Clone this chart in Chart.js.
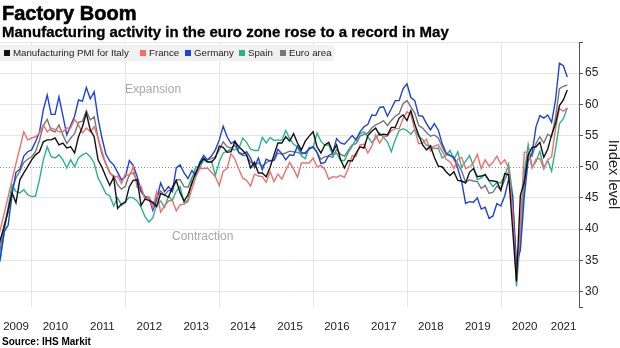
<!DOCTYPE html>
<html>
<head>
<meta charset="utf-8">
<script src="https://cdn.jsdelivr.net/npm/chart.js@4.4.1/dist/chart.umd.min.js"></script>
<style>
  html, body { margin: 0; padding: 0; background: #fff; }
  canvas { display: block; }
</style>
</head>
<body>
<canvas id="pmiChart" width="620" height="348"></canvas>
<script>
// months counted from Jan 2009 (= 0); series start in Mar 2009
const firstMonth = 2;
const yearLabels = ['2009', '2010', '2011', '2012', '2013', '2014', '2015', '2016', '2017', '2018', '2019', '2020', '2021'];
const yTicks = [30, 35, 40, 45, 50, 55, 60, 65];

const italy = [
  35.0, 38.3, 40.4, 43.1, 45.8, 44.2, 47.9, 49.0, 50.0, 51.1,
  51.9, 52.4, 54.0, 54.3, 54.3, 54.6, 53.5, 53.8, 53.0, 53.2, 52.2, 54.8,
  56.4, 58.6, 55.9, 54.8, 51.1, 49.9, 48.4, 47.0, 48.3, 43.3, 44.0, 44.3,
  46.8, 47.8, 47.9, 43.8, 44.8, 44.6, 44.3, 43.6, 45.7, 45.5, 45.1, 46.7,
  47.8, 45.8, 44.5, 45.5, 47.3, 49.1, 50.4, 51.3, 50.8, 50.7, 51.4, 53.3,
  53.1, 52.3, 52.4, 54.0, 53.2, 52.6, 51.9, 49.8, 50.7, 49.0, 49.0, 48.4,
  49.9, 51.9, 53.8, 53.8, 54.8, 54.1, 55.3, 53.8, 52.7, 54.1, 54.9, 55.6,
  53.2, 52.2, 53.5, 53.9, 52.4, 53.5, 51.2, 49.8, 51.0, 50.9, 52.2, 53.2,
  53.0, 55.0, 55.7, 56.2, 55.1, 55.2, 55.1, 56.3, 56.3, 57.8, 58.3, 57.4,
  59.0, 56.8, 55.1, 53.5, 52.7, 53.3, 51.5, 50.1, 50.0, 49.2, 48.6, 49.2,
  47.8, 47.7, 47.4, 49.1, 49.7, 48.4, 48.5, 48.7, 47.8, 47.7, 47.6, 46.2,
  48.9, 48.7, 40.3, 31.6, 45.4, 47.5, 51.9, 53.1, 53.2, 53.9, 51.5, 52.8,
  55.1, 56.9, 59.8, 60.7, 62.3
];
const france = [
  37.5, 39.9, 42.5, 45.2, 47.9, 50.5, 53.0, 55.6, 54.3, 54.6,
  54.8, 55.4, 56.7, 55.6, 56.2, 56.0, 55.6, 55.6, 56.2, 56.2, 57.6, 56.7,
  55.4, 56.2, 55.6, 56.4, 54.6, 52.5, 50.5, 49.1, 48.2, 48.5, 47.3, 48.9,
  48.5, 50.0, 46.7, 46.9, 44.7, 45.2, 43.4, 46.0, 42.7, 43.7, 44.5, 44.6,
  42.9, 43.9, 44.0, 44.4, 46.4, 48.4, 49.7, 49.7, 49.8, 49.1, 48.4, 47.0,
  49.3, 49.7, 52.1, 51.2, 49.6, 48.2, 47.8, 46.9, 48.8, 48.5, 48.4, 47.5,
  49.2, 47.6, 48.8, 48.0, 49.4, 50.7, 49.6, 48.3, 50.6, 50.6, 50.6, 51.4,
  50.0, 50.2, 49.6, 48.0, 48.4, 48.3, 48.6, 48.3, 49.7, 51.8, 51.7, 53.5,
  53.6, 52.2, 53.3, 55.1, 53.8, 54.8, 54.9, 55.8, 56.1, 56.1, 57.7, 58.8,
  58.4, 55.9, 53.7, 53.8, 54.4, 52.5, 53.3, 53.5, 52.5, 51.2, 50.8, 49.7,
  51.2, 51.5, 49.7, 50.0, 50.6, 52.0, 49.7, 51.1, 50.1, 50.7, 51.7, 50.4,
  51.1, 49.8, 43.2, 31.5, 40.6, 52.3, 52.4, 49.8, 51.2, 51.3, 49.6, 51.1,
  51.6, 56.1, 59.3, 58.9, 59.4
];
const germany = [
  32.4, 35.4, 39.6, 40.6, 45.5, 49.1, 49.6, 51.7, 52.4, 52.7,
  54.0, 55.5, 59.1, 61.5, 58.4, 58.4, 61.2, 58.2, 55.1, 56.6, 58.1, 60.7,
  60.5, 62.7, 60.9, 62.0, 57.7, 54.6, 52.0, 50.9, 50.3, 49.1, 47.9, 48.4,
  51.0, 50.2, 48.4, 46.2, 45.2, 45.0, 43.0, 44.7, 47.4, 46.0, 46.8, 46.0,
  49.8, 50.3, 49.0, 48.1, 49.4, 48.6, 50.7, 51.8, 51.1, 51.7, 52.7, 54.3,
  56.5, 54.8, 53.7, 54.1, 52.3, 52.0, 52.4, 51.4, 49.9, 51.4, 49.5, 51.2,
  50.9, 51.1, 52.8, 52.1, 51.1, 51.9, 51.8, 53.3, 52.3, 52.1, 52.9, 53.2,
  52.3, 50.5, 50.7, 51.8, 52.1, 54.5, 53.8, 53.6, 54.3, 55.0, 54.3, 55.6,
  56.4, 56.8, 58.3, 58.2, 59.5, 59.6, 58.1, 59.3, 60.6, 60.6, 62.5, 63.3,
  61.1, 60.6, 58.2, 58.1, 56.9, 55.9, 56.9, 55.9, 53.7, 52.2, 51.8, 51.5,
  49.7, 47.6, 44.1, 44.4, 44.3, 45.0, 43.2, 43.5, 41.7, 42.1, 44.1, 43.7,
  45.3, 48.0, 45.4, 34.5, 36.6, 45.2, 51.0, 52.2, 56.4, 58.2, 57.8, 58.3,
  57.1, 60.7, 66.6, 66.2, 64.4
];
const spain = [
  33.5, 35.1, 39.5, 43.5, 47.1, 46.0, 45.8, 46.3, 45.5, 45.2,
  45.3, 47.9, 51.1, 53.2, 51.6, 51.4, 51.9, 51.1, 49.8, 51.1, 50.0, 51.4,
  51.9, 52.2, 51.6, 50.6, 48.2, 47.0, 45.7, 45.3, 43.7, 45.0, 43.8, 44.4,
  45.1, 45.0, 44.5, 43.5, 42.0, 41.1, 41.8, 44.0, 44.5, 43.5, 45.3, 44.6,
  46.1, 46.8, 44.2, 44.7, 48.1, 50.0, 49.8, 51.1, 50.7, 50.9, 48.6, 50.8,
  52.2, 52.5, 52.8, 52.7, 52.9, 54.6, 53.9, 52.8, 52.6, 52.6, 54.7, 53.8,
  54.7, 54.2, 54.3, 54.2, 55.8, 54.5, 53.6, 53.2, 51.7, 51.3, 53.1, 53.0,
  55.4, 54.1, 53.4, 53.5, 51.8, 52.2, 51.0, 51.0, 52.3, 53.3, 54.5, 55.3,
  55.6, 54.8, 53.9, 54.5, 55.4, 54.7, 54.0, 52.4, 54.3, 55.8, 56.1, 55.8,
  55.2, 56.0, 54.8, 54.4, 53.4, 53.4, 52.9, 53.0, 51.4, 51.8, 52.6, 51.1,
  52.4, 49.9, 50.9, 51.8, 50.1, 47.9, 48.2, 48.8, 47.7, 46.8, 47.5, 47.4,
  48.5, 50.4, 45.7, 30.8, 38.3, 49.0, 53.5, 49.9, 50.8, 52.5, 49.8, 51.0,
  49.3, 52.9, 56.9, 57.7, 59.4
];
const euroArea = [
  33.9, 36.8, 40.7, 42.6, 46.3, 48.2, 49.3, 50.7, 51.2, 51.6,
  52.4, 54.2, 56.6, 57.6, 55.8, 55.6, 56.7, 55.1, 53.7, 54.6, 55.3, 57.1,
  57.3, 59.0, 57.5, 58.0, 54.6, 52.0, 50.4, 49.0, 48.5, 47.1, 46.4, 46.9,
  48.8, 49.0, 47.7, 45.9, 45.1, 45.1, 44.0, 45.1, 46.1, 45.4, 46.2, 46.1,
  47.9, 47.9, 46.8, 46.7, 48.3, 48.8, 50.3, 51.4, 51.1, 51.3, 51.6, 52.7,
  54.0, 53.2, 53.0, 53.4, 52.2, 51.8, 51.8, 50.7, 50.3, 50.6, 50.1, 50.6,
  51.0, 51.0, 52.2, 52.0, 52.2, 52.5, 52.4, 52.3, 52.0, 52.3, 52.8, 53.2,
  52.3, 51.2, 51.6, 51.7, 51.5, 52.8, 52.0, 51.7, 52.6, 53.5, 53.7, 54.9,
  55.2, 55.4, 56.2, 56.7, 57.0, 57.4, 56.6, 57.4, 58.1, 58.5, 60.1, 60.6,
  59.6, 58.6, 56.6, 56.2, 55.5, 54.9, 55.1, 54.6, 53.2, 52.0, 51.8, 51.4,
  50.5, 49.3, 47.5, 47.9, 47.7, 47.6, 46.5, 47.0, 45.7, 45.9, 46.9, 46.3,
  47.9, 49.2, 44.5, 33.4, 39.4, 47.4, 51.8, 51.7, 53.7, 54.8, 53.8, 55.2,
  54.8, 57.9, 62.5, 62.9, 63.1
];

const FONT = '"Liberation Sans", Arial, sans-serif';
Chart.defaults.font.family = FONT;

// x axis window: Jan 2010 gridline sits 32px in, ~3.91px per month
const X_MIN = 3.82;
const X_MAX = 151.9;
const gridMonths = [12, 36, 60, 84, 108, 132];

// monthly readings are plotted at month end
const toPoints = arr => arr.map((v, i) => ({ x: firstMonth + i + 0.9, y: v }));

// year labels sit in the middle of each year (visible part for the first and last)
const yearTickPos = yearLabels.map((y, i) => {
  if (i === 0) return (X_MIN + 12) / 2;
  if (i === yearLabels.length - 1) return (i * 12 + X_MAX) / 2;
  return i * 12 + 6;
});

const xTicks = yearTickPos.map((v, i) => ({ value: v, label: yearLabels[i] }))
  .concat(gridMonths.map(v => ({ value: v, label: '' })))
  .sort((a, b) => a.value - b.value);

const series = [
  { label: 'Manufacturing PMI for Italy', data: italy, color: '#111111' },
  { label: 'France', data: france, color: '#f26e6b' },
  { label: 'Germany', data: germany, color: '#1d43d8' },
  { label: 'Spain', data: spain, color: '#27b48c' },
  { label: 'Euro area', data: euroArea, color: '#777777' }
];

const legendX = [4, 140, 185, 239, 280];

const decorations = {
  id: 'decorations',
  beforeDatasetsDraw(chart) {
    const { ctx, chartArea, scales: { x, y } } = chart;
    ctx.save();
    const y50 = Math.round(y.getPixelForValue(50)) + 0.5;
    ctx.strokeStyle = '#8a8a8a';
    ctx.lineWidth = 1;
    ctx.setLineDash([1, 2]);
    ctx.beginPath();
    ctx.moveTo(chartArea.left, y50);
    ctx.lineTo(chartArea.right, y50);
    ctx.stroke();
    ctx.setLineDash([]);

    ctx.fillStyle = '#a8a8a8';
    ctx.font = '12px ' + FONT;
    ctx.textBaseline = 'middle';
    ctx.textAlign = 'left';
    ctx.fillText('Expansion', x.getPixelForValue(35.8), y.getPixelForValue(62.3));
    ctx.fillText('Contraction', x.getPixelForValue(47.8), y.getPixelForValue(38.8));
    ctx.restore();
  },
  afterDraw(chart) {
    const { ctx } = chart;
    ctx.save();
    ctx.textAlign = 'left';
    ctx.textBaseline = 'alphabetic';
    ctx.fillStyle = '#000';
    ctx.strokeStyle = '#000';
    ctx.font = '700 20px ' + FONT;
    ctx.lineWidth = 0.6;
    ctx.fillText('Factory Boom', 2, 20);
    ctx.strokeText('Factory Boom', 2, 20);
    ctx.font = '700 15px ' + FONT;
    ctx.lineWidth = 0.3;
    ctx.fillText('Manufacturing activity in the euro zone rose to a record in May', 2, 37);
    ctx.strokeText('Manufacturing activity in the euro zone rose to a record in May', 2, 37);

    // legend strip
    ctx.fillStyle = '#f1f1f1';
    ctx.fillRect(0, 45, 334, 16);
    ctx.font = '9.7px ' + FONT;
    ctx.textBaseline = 'middle';
    series.forEach((s, i) => {
      ctx.fillStyle = s.color;
      ctx.fillRect(legendX[i], 50, 6, 6);
      ctx.fillStyle = '#1a1a1a';
      ctx.fillText(s.label, legendX[i] + 9, 53.5);
    });

    ctx.fillStyle = '#000';
    ctx.font = '700 10px ' + FONT;
    ctx.textBaseline = 'alphabetic';
    ctx.fillText('Source: IHS Markit', 2, 345);
    ctx.restore();
  }
};

new Chart(document.getElementById('pmiChart'), {
  type: 'line',
  data: {
    datasets: series.map(s => ({
      label: s.label,
      data: toPoints(s.data),
      borderColor: s.color,
      backgroundColor: s.color,
      borderWidth: 1.4,
      pointRadius: 0,
      tension: 0
    }))
  },
  options: {
    responsive: false,
    animation: false,
    devicePixelRatio: 1,
    layout: { padding: { top: 42, left: 0, right: 0, bottom: 0 } },
    plugins: {
      legend: { display: false },
      tooltip: { enabled: false },
      title: { display: false }
    },
    scales: {
      x: {
        type: 'linear',
        min: X_MIN,
        max: X_MAX,
        afterBuildTicks: s => { s.ticks = xTicks.map(t => ({ value: t.value })); },
        afterFit: s => { s.height = 41; s.paddingLeft = 0; s.paddingRight = 0; },
        ticks: {
          autoSkip: false,
          maxRotation: 0,
          padding: 13,
          color: '#222',
          font: { size: 11.5 },
          callback: (v) => {
            const t = xTicks.find(t => Math.abs(t.value - v) < 1e-6);
            return t ? t.label : '';
          }
        },
        grid: {
          drawTicks: false,
          lineWidth: 1,
          color: ctx => (ctx.tick && gridMonths.includes(ctx.tick.value)) ? '#e6e6e6' : 'rgba(0,0,0,0)'
        },
        border: { display: false }
      },
      y: {
        type: 'linear',
        position: 'right',
        min: 27.5,
        max: 70,
        afterBuildTicks: s => { s.ticks = [27.5].concat(yTicks, [70]).map(v => ({ value: v })); },
        afterFit: s => { s.width = 41; s.paddingTop = 0; s.paddingBottom = 0; },
        ticks: {
          padding: 2,
          color: '#222',
          font: { size: 12 },
          callback: v => yTicks.includes(v) ? String(v) : ''
        },
        grid: {
          tickLength: 4,
          tickColor: '#555',
          color: ctx => {
            const v = ctx.tick && ctx.tick.value;
            return (v === 50 || v === 27.5) ? 'rgba(0,0,0,0)' : '#e6e6e6';
          }
        },
        border: { display: true, color: '#555', width: 1 },
        title: {
          display: true,
          text: 'Index level',
          color: '#222',
          font: { size: 14.5, lineHeight: 1 },
          padding: 0
        }
      }
    }
  },
  plugins: [decorations]
});
</script>
</body>
</html>
